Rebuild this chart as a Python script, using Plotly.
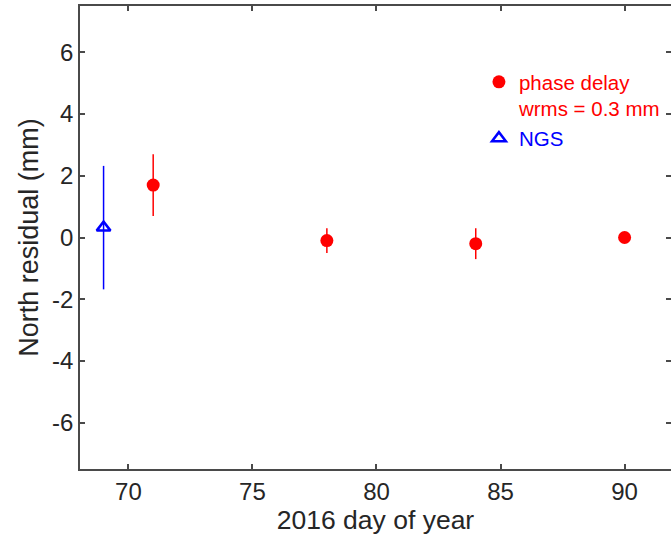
import plotly.graph_objects as go

# Data
phase_day = [71, 78, 84, 90]
phase_res = [1.7, -0.1, -0.2, 0.0]
phase_err = [1.0, 0.4, 0.5, 0.15]

ngs_day = [69]
ngs_res = [0.32]
ngs_err = [2.0]

x_ticks = [70, 75, 80, 85, 90]
y_ticks = [-6, -4, -2, 0, 2, 4, 6]
y_tick_text = ["-6", "-4", "-2", "0", "2", "4", "6"]

FONT = "Liberation Sans, Arial, sans-serif"
AX = "#4a4a4a"
TXT = "#262626"

fig = go.Figure()
fig.add_trace(go.Scatter(
    x=phase_day, y=phase_res, mode="markers",
    name='<span style="color:#ff0000">phase delay</span><br><span style="color:#ff0000">wrms = 0.3 mm</span>',
    marker=dict(symbol="circle", size=13, color="#ff0000"),
    error_y=dict(type="data", array=phase_err, visible=True, color="#ff0000", thickness=1.5, width=0),
))
fig.add_trace(go.Scatter(
    x=ngs_day, y=ngs_res, mode="markers",
    name='<span style="color:#0000ff">NGS</span>',
    marker=dict(symbol="triangle-up-open", size=12, color="#0000ff", line=dict(width=2.5, color="#0000ff")),
    error_y=dict(type="data", array=ngs_err, visible=True, color="#0000ff", thickness=1.5, width=0),
))

axis_common = dict(
    showgrid=False, zeroline=False, showline=True, linecolor=AX, linewidth=1.5,
    mirror="allticks", ticks="inside", ticklen=5, tickwidth=1.5, tickcolor=AX,
    tickfont=dict(family=FONT, size=24, color=TXT),
)

fig.update_layout(
    width=671, height=541,
    margin=dict(l=80, r=0, t=6, b=72, autoexpand=False),
    paper_bgcolor="white", plot_bgcolor="white",
    font=dict(family=FONT, color=TXT),
    xaxis=dict(range=[68.05, 91.87], tickvals=x_ticks,
               title=dict(text="2016 day of year", font=dict(family=FONT, size=26.5, color=TXT), standoff=0),
               **axis_common),
    yaxis=dict(range=[-7.5, 7.5], tickvals=y_ticks, ticktext=y_tick_text,
               title=dict(text="North residual (mm)", font=dict(family=FONT, size=27, color=TXT), standoff=6),
               **axis_common),
    legend=dict(x=0.675, y=0.879, xanchor="left", yanchor="top",
                bgcolor="rgba(0,0,0,0)", font=dict(family=FONT, size=20.5),
                valign="top"),
    showlegend=True,
)

fig.write_html("out.html", config={"displayModeBar": False},
               post_script="document.body.style.margin='0px';")
